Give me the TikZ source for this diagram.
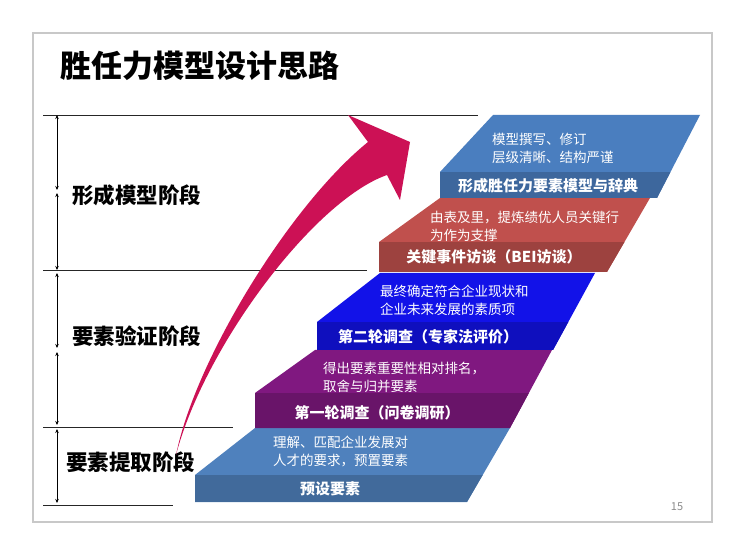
\documentclass[tikz,border=0pt]{standalone}
\usepackage{fontspec}
\setmainfont{Noto Sans CJK SC}
\usetikzlibrary{arrows.meta, calc}

\definecolor{stairblue}{RGB}{79,129,189}
\definecolor{stairpurple}{RGB}{128,24,128}
\definecolor{stairdeep}{RGB}{18,18,232}
\definecolor{stairred}{RGB}{192,80,77}
\definecolor{stairtop}{RGB}{74,126,191}
\definecolor{arrowred}{RGB}{204,17,85}
\definecolor{framegray}{RGB}{200,200,200}

\newcommand{\stair}[9]{%
  \coordinate (#1bl) at (#2,#3);
  \coordinate (#1fl) at (#2,#4);
  \coordinate (#1tl) at (#6,#5);
  \coordinate (#1tr) at (#7,#5);
  \coordinate (#1br) at (#8,#3);
  \fill[#9] (#1bl) -- (#1fl) -- (#1tl) -- (#1tr) -- (#1br) -- cycle;
  \begin{scope}
    \clip (#1bl) -- (#1fl) -- (#1tl) -- (#1tr) -- (#1br) -- cycle;
    \fill[#9!82!black] (#1bl) rectangle (#7,#4);
  \end{scope}
}

\begin{document}
\begin{tikzpicture}[x=1pt, y=-1pt,
  stage/.style={font=\fontsize{21.5}{24}\selectfont\bfseries, anchor=west, inner sep=0},
  front/.style={font=\fontsize{15}{18}\selectfont\bfseries, text=white, inner sep=0},
  face/.style={font=\fontsize{13.5}{18}\selectfont, text=white, align=left, anchor=west, inner sep=0},
  divider/.style={line width=0.9pt, black!85},
  dimline/.style={line width=0.8pt, {Stealth[length=4pt,width=3.5pt]}-{Stealth[length=4pt,width=3.5pt]}}]
\useasboundingbox (0,0) rectangle (756,540);
\fill[white] (0,0) rectangle (756,540);
\draw[framegray, line width=2.2pt] (33,33) rectangle (712,522);

\node[anchor=west, inner sep=0, font=\fontsize{31}{34}\selectfont\bfseries] (title) at (60,66) {胜任力模型设计思路};

\coordinate (l1a) at (43,115); \coordinate (l1b) at (478,115);
\coordinate (l2a) at (43,270); \coordinate (l2b) at (367,270);
\coordinate (l3a) at (43,427); \coordinate (l3b) at (233,427);
\coordinate (l4a) at (43,505); \coordinate (l4b) at (173,505);
\draw[divider] (l1a) -- (l1b);
\draw[divider] (l2a) -- (l2b);
\draw[divider] (l3a) -- (l3b);
\draw[divider] (l4a) -- (l4b);

\coordinate (d0) at (57,115);
\coordinate (d1) at (57,190);
\coordinate (d1b) at (57,193);
\coordinate (d2) at (57,270);
\coordinate (d2b) at (57,273);
\coordinate (d3) at (57,348);
\coordinate (d3b) at (57,352);
\coordinate (d4) at (57,425);
\coordinate (d4b) at (57,429);
\coordinate (d5) at (57,503);
\draw[dimline] (d0) -- (d1);
\draw[dimline] (d1b) -- (d2);
\draw[dimline] (d2b) -- (d3);
\draw[dimline] (d3b) -- (d4);
\draw[dimline] (d4b) -- (d5);

\node[stage] (form) at (72,195) {形成模型阶段};
\node[stage] (verify) at (72,336) {要素验证阶段};
\node[stage] (extract) at (66,462) {要素提取阶段};

\stair{s1}{195}{502}{475}{428}{255}{510}{467}{stairblue}
\stair{s2}{255}{428}{393}{350}{315}{552}{510}{stairpurple}
\stair{s3}{317}{350}{322}{273}{380}{595}{553}{stairdeep}
\stair{s4}{379}{272}{242}{198}{440}{650}{607}{stairred}
\stair{s5}{440}{198}{172}{115}{493}{700}{657}{stairtop}

\node[front] (s1lab) at (330,489) {预设要素};
\node[face] (s1txt) at (273,451) {理解、匹配企业发展对\\人才的要求，预置要素};
\node[front] (s2lab) at (377,413) {第一轮调查（问卷调研）};
\node[face] (s2txt) at (323,377) {得出要素重要性相对排名，\\取舍与归并要素};
\node[front] (s3lab) at (428,337) {第二轮调查（专家法评价）};
\node[face] (s3txt) at (380,300) {最终确定符合企业现状和\\企业未来发展的素质项};
\node[front] (s4lab) at (494,257) {关键事件访谈（BEI访谈）};
\node[face] (s4txt) at (430,226) {由表及里，提炼绩优人员关键行\\为作为支撑};
\node[front] (s5lab) at (548,186) {形成胜任力要素模型与辞典};
\node[face] (s5txt) at (492,148) {模型撰写、修订\\层级清晰、结构严谨};

\coordinate (tail) at (176,455);
\coordinate (neckup) at (368,142);
\coordinate (barbup) at (348,115);
\coordinate (tip) at (410,142);
\coordinate (barbdown) at (400,200);
\coordinate (necklow) at (387,175);
\fill[arrowred] (tail) .. controls (195,360) and (290,205) .. (neckup)
  -- (barbup) -- (tip) -- (barbdown) -- (necklow)
  .. controls (315,200) and (205,345) .. cycle;

\node[text=black!45, font=\fontsize{11}{13}\selectfont] (page) at (677,507) {15};
\end{tikzpicture}
\end{document}
